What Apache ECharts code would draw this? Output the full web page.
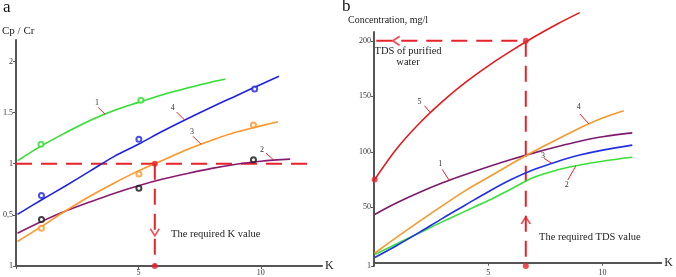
<!DOCTYPE html>
<html>
<head>
<meta charset="utf-8">
<script src="https://cdn.jsdelivr.net/npm/echarts@6/dist/echarts.min.js"></script>
<style>
  html, body { margin: 0; padding: 0; background: #fff; }
  #chart { width: 676px; height: 277px; }
</style>
</head>
<body>
<div id="chart"></div>
<script>
// ---------- panel a: Cp / Cr vs K ----------
var aCurve1 = [[0.07, 1.03], [1, 1.17], [2, 1.30], [3, 1.42], [4, 1.52], [5, 1.60], [6, 1.675], [7, 1.74], [8, 1.80], [8.54, 1.826]];
var aCurve2 = [[0.06, 0.32], [1, 0.43], [2, 0.535], [3, 0.625], [4, 0.71], [5, 0.785], [6, 0.85], [7, 0.905], [8, 0.955], [9, 0.995], [10, 1.025], [11.2, 1.045]];
var aCurve3 = [[0.06, 0.24], [1, 0.38], [2, 0.535], [3, 0.68], [4, 0.81], [5, 0.93], [6, 1.035], [7, 1.14], [8, 1.23], [9, 1.31], [10, 1.37], [10.7, 1.41]];
var aCurve4 = [[0.06, 0.505], [1, 0.64], [2, 0.78], [3, 0.925], [4, 1.07], [5, 1.19], [6, 1.32], [7, 1.44], [8, 1.555], [9, 1.665], [10, 1.775], [10.74, 1.855]];
var aPts1 = [[1.02, 1.19], [5.1, 1.62]];
var aPts2 = [[1.04, 0.455], [5.02, 0.76], [9.7, 1.04]];
var aPts3 = [[1.04, 0.37], [5.02, 0.90], [9.7, 1.38]];
var aPts4 = [[1.04, 0.69], [5.02, 1.24], [9.75, 1.73]];
var aTarget = 1.0;      // required Cp/Cr
var aK = 5.67;          // required K
var aHLineEnd = 11.9;
var aYTicks = [0, 0.5, 1, 1.5, 2];
var aYNames = ['1', '0,5', '1', '1.5', '2'];

// ---------- panel b: concentration vs K ----------
var bCurve1 = [[0.03, 43.5], [1, 54], [2, 63.5], [3, 72], [4, 79.5], [5, 86.5], [6, 93], [7, 99], [8, 104.5], [9, 109.5], [10, 113.5], [11.3, 117]];
var bCurve2 = [[0.03, 7.3], [1, 17], [2, 27], [3, 37], [4, 46.5], [5, 56], [6, 66.5], [7, 77], [8, 83.5], [9, 88], [10, 91.5], [11.3, 95]];
var bCurve3 = [[0.03, 4.6], [1, 15.5], [2, 27.5], [3, 40], [4, 52], [5, 64], [6, 75], [7, 84], [8, 91], [9, 97], [10, 101.5], [11.3, 106]];
var bCurve4 = [[0.03, 8.5], [1, 23], [2, 37.5], [3, 51.5], [4, 65], [5, 77], [6, 89], [7, 100.5], [8, 111], [9, 121.5], [10, 130.5], [10.93, 137]];
var bCurve5 = [[0.03, 75], [1, 103], [2, 126], [3, 145.5], [4, 162.5], [5, 177.5], [6, 191], [7, 203.5], [8, 215], [9, 225.5]];
var bTarget = 200;      // TDS of purified water
var bK = 6.64;
var bYMin = -3;
var bYTicks = [-3, 50, 100, 150, 200];

// curve number labels: [panel, text, K, value, leader dx, dy, label dx, dy]
var curveTags = [
  [0, '1', 3.64, 1.484, -7, -7, -8, -11],
  [0, '4', 6.89, 1.427, -8, -8, -12, -12],
  [0, '3', 7.56, 1.19, -8, -8, -9, -12],
  [0, '2', 10.54, 1.034, -8, -7, -12, -10],
  [1, '5', 2.47, 135.2, -6, -7, -11, -11],
  [1, '1', 3.29, 74.2, -7, -11, -9, -16],
  [1, '4', 9.4, 125.1, -9, -10, -10, -17],
  [1, '3', 7.79, 89.5, -8, -5, -9, -8],
  [1, '2', 8.83, 87.2, -8, 14, -9, 19]
];

var red = '#e6222a';
var axisGrey = '#555';
var serif = 'Liberation Serif';
var chevron = 'path://M0,0L6,8L12,0';

function curve(data, color, xi) {
  return {
    type: 'line', xAxisIndex: xi, yAxisIndex: xi, data: data, smooth: 0.35,
    showSymbol: false, clip: false, z: 3,
    lineStyle: { color: color, width: 1.6 }
  };
}
function rings(data, color) {
  return {
    type: 'scatter', xAxisIndex: 0, yAxisIndex: 0, data: data, symbolSize: 5, z: 5,
    itemStyle: { color: '#fff', borderColor: color, borderWidth: 2 }
  };
}
function dashed(data, xi) {
  return {
    type: 'line', xAxisIndex: xi, yAxisIndex: xi, data: data, showSymbol: false, z: 2,
    lineStyle: { color: red, width: 2, type: [16, 9] }
  };
}
function dots(data, xi) {
  return {
    type: 'scatter', xAxisIndex: xi, yAxisIndex: xi, data: data, symbolSize: 6, z: 6,
    itemStyle: { color: red }
  };
}
function arrow(pt, rot, xi) {
  return {
    type: 'scatter', xAxisIndex: xi, yAxisIndex: xi, data: [pt], symbol: chevron,
    symbolSize: [9, 7], symbolRotate: rot, z: 6,
    itemStyle: { color: 'none', borderColor: red, borderWidth: 1.6 }
  };
}

var xAxisBase = {
  type: 'value', interval: 5, splitLine: { show: false },
  axisLine: { lineStyle: { color: axisGrey, width: 2 } },
  axisTick: { length: 3, lineStyle: { color: axisGrey } },
  axisLabel: { fontFamily: serif, fontSize: 8, color: '#333', margin: 3, showMaxLabel: false,
    formatter: function (v) { return v === 0 ? '' : String(v); } },
  nameLocation: 'end', nameGap: 3,
  nameTextStyle: { fontFamily: serif, fontSize: 12, color: '#222' }
};

var chart = echarts.init(document.getElementById('chart'), null, { renderer: 'canvas' });
chart.setOption({
  animation: false,
  grid: [
    { left: 15, top: 40, width: 307, height: 226 },
    { left: 374, top: 32, width: 293, height: 234 }
  ],
  xAxis: [
    Object.assign({}, xAxisBase, { gridIndex: 0, min: 0, max: 12.5, name: 'K' }),
    Object.assign({}, xAxisBase, { gridIndex: 1, min: 0, max: 12.57, name: 'K' })
  ],
  yAxis: [
    {
      type: 'value', gridIndex: 0, min: 0, max: 2.21, interval: 0.5, splitLine: { show: false },
      axisLine: { show: true, lineStyle: { color: axisGrey, width: 2 } },
      axisTick: { show: true, length: 3, lineStyle: { color: axisGrey } },
      axisLabel: { fontFamily: serif, fontSize: 8, color: '#333', margin: 3, showMaxLabel: false,
        formatter: function (v) { return aYNames[aYTicks.indexOf(v)] || ''; } }
    },
    {
      type: 'value', gridIndex: 1, min: bYMin, max: 208, splitLine: { show: false },
      axisLine: { show: true, lineStyle: { color: axisGrey, width: 2 } },
      axisTick: { show: true, length: 3, customValues: bYTicks, lineStyle: { color: axisGrey } },
      axisLabel: { fontFamily: serif, fontSize: 8, color: '#333', margin: 3, customValues: bYTicks,
        formatter: function (v) { return v < 0 ? '1' : String(v); } }
    }
  ],
  series: [
    dashed([[0, aTarget], [aHLineEnd, aTarget]], 0),
    dashed([[aK, aTarget], [aK, 0]], 0),
    curve(aCurve1, '#2fe02f', 0),
    curve(aCurve2, '#8a1a70', 0),
    curve(aCurve3, '#ff9526', 0),
    curve(aCurve4, '#1f22e0', 0),
    rings(aPts1, '#2fe02f'),
    rings(aPts2, '#111'),
    rings(aPts3, '#ff9526'),
    rings(aPts4, '#1f22e0'),
    dots([[aK, aTarget], [aK, 0]], 0),
    arrow([aK, 0.33], 0, 0),

    dashed([[0.1, bTarget], [bK, bTarget]], 1),
    dashed([[bK, bTarget], [bK, bYMin]], 1),
    curve(bCurve1, '#7c1a6e', 1),
    curve(bCurve2, '#3ae03a', 1),
    curve(bCurve3, '#1f30e6', 1),
    curve(bCurve4, '#f39a2c', 1),
    curve(bCurve5, '#e41a1c', 1),
    dots([[bK, bTarget], [bK, bYMin], bCurve5[0]], 1),
    arrow([0.97, bTarget], -90, 1),
    arrow([bK, 38], 180, 1)
  ]
});

var graphics = [
  { type: 'text', style: { text: 'a', x: 3, y: 8, fontFamily: serif, fontSize: 17, fill: '#111', verticalAlign: 'middle' } },
  { type: 'text', style: { text: 'Cp / Cr', x: 2, y: 31, fontFamily: serif, fontSize: 11, fill: '#222', verticalAlign: 'middle' } },
  { type: 'text', style: { text: 'The required K value', x: 171, y: 234, fontFamily: serif, fontSize: 10.5, fill: '#222', verticalAlign: 'middle' } },
  { type: 'text', style: { text: 'b', x: 342, y: 7, fontFamily: serif, fontSize: 17, fill: '#111', verticalAlign: 'middle' } },
  { type: 'text', style: { text: 'Concentration, mg/l', x: 348, y: 20, fontFamily: serif, fontSize: 10, fill: '#222', verticalAlign: 'middle' } },
  { type: 'text', style: { text: 'TDS of purified\nwater', x: 408, y: 57, fontFamily: serif, fontSize: 10.5, lineHeight: 11, fill: '#222', align: 'center', verticalAlign: 'middle' } },
  { type: 'text', style: { text: 'The required TDS value', x: 539, y: 237, fontFamily: serif, fontSize: 10.5, fill: '#222', verticalAlign: 'middle' } }
];
curveTags.forEach(function (t) {
  var p = chart.convertToPixel({ gridIndex: t[0] }, [t[2], t[3]]);
  graphics.push({ type: 'line', shape: { x1: p[0], y1: p[1], x2: p[0] + t[4], y2: p[1] + t[5] }, style: { stroke: red, lineWidth: 1 }, z: 10 });
  graphics.push({ type: 'text', style: { text: t[1], x: p[0] + t[6], y: p[1] + t[7], fontFamily: serif, fontSize: 8, fill: '#333', align: 'center', verticalAlign: 'middle' }, z: 10 });
});
chart.setOption({ graphic: graphics });
</script>
</body>
</html>
